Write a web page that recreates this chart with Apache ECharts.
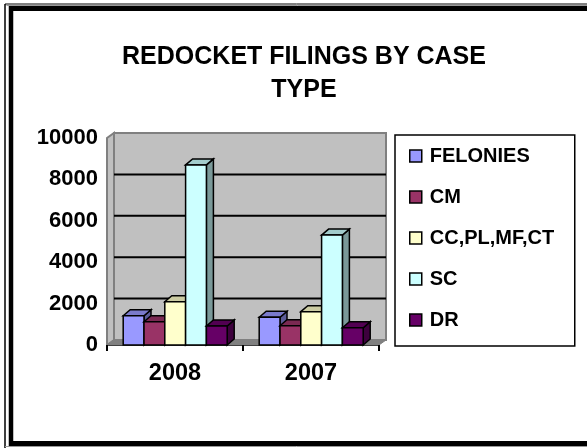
<!DOCTYPE html>
<html><head><meta charset="utf-8">
<style>html,body{margin:0;padding:0;background:#fff}#c{width:587px;height:448px}</style>
<script src="https://cdn.jsdelivr.net/npm/echarts@6/dist/echarts.min.js"></script>
</head><body><div id="c"></div>
<script>
const categories = ['2008','2007'];
const felonies = [1415,1340];
const cm = [1125,930];
const ccplmfct = [2090,1610];
const sc = [8700,5310];
const dr = [920,835];
const yTicks = [2000,4000,6000,8000];
const names = ['FELONIES','CM','CC,PL,MF,CT','SC','DR'];
const colors = ['#9999FF','#993366','#FFFFCC','#CCFFFF','#660066'];
const topColors = ['#7A7ACC','#7A2952','#CCCCA3','#A3CCCC','#520052'];
const sideColors = ['#5C5C99','#5C1F3D','#99997A','#7A9999','#3D003D'];
const values = [felonies,cm,ccplmfct,sc,dr];
const DX=7, DY=6, WDY=5, FONT='"Liberation Sans",Arial,sans-serif';
const BW=20.8;
function poly(points,fill,stroke,lw){return {type:'polygon',shape:{points},style:{fill,stroke,lineWidth:lw,lineJoin:'miter'}};}
function frameLine(x1,y1,x2,y2,stroke,lineWidth){return {type:'line',shape:{x1,y1,x2,y2},style:{stroke,lineWidth},z:100,silent:true};}
const barSeries = names.map((n,i)=>({
  name:n,type:'custom',coordinateSystem:'cartesian2d',z:3+i,
  itemStyle:{color:colors[i],borderColor:'#000',borderWidth:2},
  data:categories.map((c,j)=>[j,values[i][j]]),
  encode:{x:0,y:1},
  renderItem(p,api){
    const b=api.coord([api.value(0),0]), t=api.coord([api.value(0),api.value(1)]);
    const x0=b[0]+(i-2.5)*BW+0.2, x1=x0+BW, y0=t[1], y1=b[1];
    return {type:'group',children:[
      poly([[x1,y1],[x1+DX,y1-DY],[x1+DX,y0-DY],[x1,y0]],sideColors[i],'#000',1.5),
      poly([[x0,y0],[x0+DX,y0-DY],[x1+DX,y0-DY],[x1,y0]],topColors[i],'#000',1.5),
      {type:'rect',shape:{x:x0,y:y0,width:BW,height:y1-y0},style:{fill:colors[i],stroke:'#000',lineWidth:1.5}}
    ]};
  }
}));
const wall = {
  type:'custom',silent:true,z:1,legendHoverLink:false,
  data:[[0,0]],encode:{x:0,y:1},
  renderItem(p,api){
    const a=api.coord([-0.5,0]), b=api.coord([1.5,0]), t=api.coord([-0.5,10000]);
    const ch=[
      poly([[a[0]+DX,a[1]-WDY],[b[0]+DX,b[1]-WDY],[b[0]+DX,t[1]-WDY],[a[0]+DX,t[1]-WDY]],'#C0C0C0','#808080',2),
      poly([[a[0],a[1]],[a[0]+DX,a[1]-WDY],[a[0]+DX,t[1]-WDY],[a[0],t[1]]],'#C0C0C0','#808080',2),
      poly([[a[0],a[1]],[b[0],b[1]],[b[0]+DX,b[1]-WDY],[a[0]+DX,a[1]-WDY]],'#808080','#808080',1)
    ];
    yTicks.forEach(v=>{const q=api.coord([-0.5,v]);
      ch.push({type:'line',shape:{x1:q[0]+DX,y1:q[1]-WDY,x2:b[0]+DX,y2:q[1]-WDY},style:{stroke:'#000',lineWidth:2}});
    });
    return {type:'group',children:ch};
  }
};
const chart = echarts.init(document.getElementById('c'),null,{renderer:'canvas'});
chart.setOption({
  animation:false,backgroundColor:'#fff',
  title:{text:'REDOCKET FILINGS BY CASE\nTYPE',left:299,top:36,textAlign:'center',
    textStyle:{fontFamily:FONT,fontWeight:'bold',fontSize:25,lineHeight:33,color:'#000'}},
  grid:{left:107,top:138,right:208,bottom:103},
  xAxis:{type:'value',min:-0.5,max:1.5,interval:1,
    axisLine:{onZero:false,lineStyle:{color:'#000',width:2}},
    axisTick:{show:false},splitLine:{show:false},
    axisLabel:{show:false}},
  yAxis:{type:'value',min:0,max:10000,interval:2000,
    axisLine:{show:true,lineStyle:{color:'#000',width:2}},
    axisTick:{show:true,length:6,lineStyle:{color:'#000',width:2}},
    splitLine:{show:false},
    axisLabel:{margin:9,fontFamily:FONT,fontWeight:'bold',fontSize:22,color:'#000',formatter:v=>String(v)}},
  legend:{orient:'vertical',left:395,top:135,padding:[11,7,16,14],itemGap:21,itemWidth:12,itemHeight:12,
    data:names,icon:'rect',borderColor:'#000',borderWidth:1.5,backgroundColor:'#fff',
    textStyle:{fontFamily:FONT,fontWeight:'bold',fontSize:20,color:'#000',padding:[0,0,0,3],width:138,lineHeight:19},
    itemStyle:{borderColor:'#000',borderWidth:1.5}},
  graphic:[
    frameLine(5,4,600,4,'#000',1),
    frameLine(5,4,5,448,'#000',1.5),
    frameLine(6.5,5.5,600,5.5,'#999',1),
    frameLine(11,6,11,446,'#000',4.5),
    frameLine(9,8.5,600,8.5,'#000',5),
    frameLine(9,443.5,600,443.5,'#000',5),
    frameLine(5,446.5,600,446.5,'#999',1)
  ],
  series:[wall,...barSeries,{
    type:'custom',silent:true,z:20,data:categories.map((c,j)=>[j,0]),encode:{x:0,y:1},
    renderItem(p,api){
      const b=api.coord([api.value(0),0]);
      const l=api.coord([api.value(0)-0.5,0]), r=api.coord([api.value(0)+0.5,0]);
      return {type:'group',children:[
        {type:'line',shape:{x1:l[0],y1:b[1],x2:l[0],y2:b[1]+6},style:{stroke:'#000',lineWidth:2}},
        {type:'line',shape:{x1:r[0],y1:b[1],x2:r[0],y2:b[1]+6},style:{stroke:'#000',lineWidth:2}},
        {type:'text',x:b[0],y:b[1]+17,style:{text:categories[api.value(0)],fontFamily:FONT,fontWeight:'bold',fontSize:23.5,fill:'#000',align:'center',verticalAlign:'top'}}
      ]};
    }
  }]
});
</script></body></html>
